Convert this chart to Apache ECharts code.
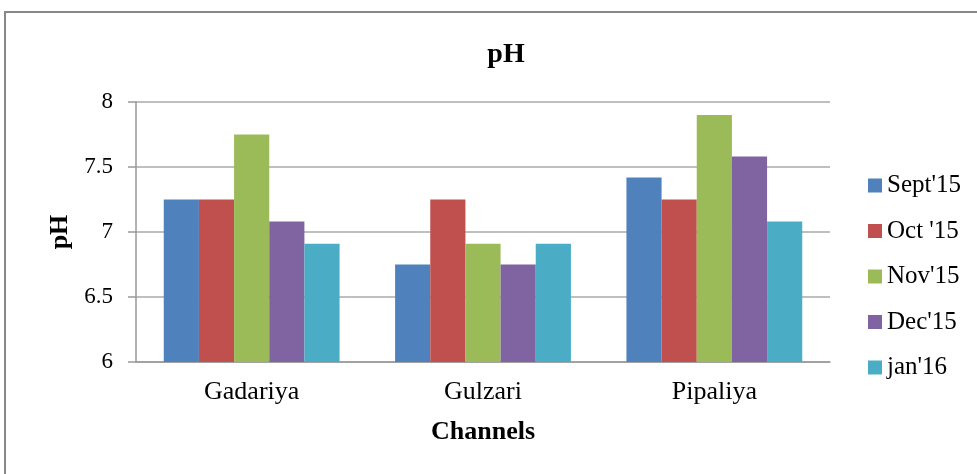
<!DOCTYPE html>
<html><head><meta charset="utf-8">
<script src="https://cdn.jsdelivr.net/npm/echarts@6/dist/echarts.min.js"></script>
<style>html,body{margin:0;padding:0;background:#fff}#c{width:977px;height:474px}</style>
</head><body><div id="c"></div>
<script>
const categories = ["Gadariya", "Gulzari", "Pipaliya"];
const seriesNames = ["Sept'15", "Oct '15", "Nov'15", "Dec'15", "jan'16"];
const sept15 = [7.25, 6.75, 7.42];
const oct15 = [7.25, 7.25, 7.25];
const nov15 = [7.75, 6.91, 7.90];
const dec15 = [7.08, 6.75, 7.58];
const jan16 = [6.91, 6.91, 7.08];
const colors = ["#4F81BD", "#C0504D", "#9BBB59", "#8064A2", "#4BACC6"];
const values = [sept15, oct15, nov15, dec15, jan16];

const font = "Liberation Serif";
const chart = echarts.init(document.getElementById('c'));
chart.setOption({
  animation: false,
  title: {text: "pH", left: 501, top: 36, textAlign: 'center',
    textStyle: {fontFamily: font, fontWeight: 'bold', fontSize: 28, color: '#000'}},
  graphic: [{type: 'rect', shape: {x: 5, y: 12, width: 980, height: 470},
    style: {fill: 'none', stroke: '#888', lineWidth: 2}, silent: true}],
  legend: {orient: 'vertical', left: 868, top: 173, padding: 0, itemGap: 20.5, itemWidth: 14, itemHeight: 14,
    icon: 'rect', data: seriesNames,
    textStyle: {fontFamily: font, fontSize: 25, color: '#000', padding: [0,0,0,0]}},
  grid: {left: 136, right: 147, top: 102, bottom: 112},
  xAxis: {type: 'category', data: categories,
    name: "Channels", nameLocation: 'middle', nameGap: 57,
    nameTextStyle: {fontFamily: font, fontWeight: 'bold', fontSize: 26, color: '#000'},
    axisLine: {lineStyle: {color: '#999', width: 1.5}}, axisTick: {show: false},
    axisLabel: {fontFamily: font, fontSize: 26, color: '#000', margin: 17}},
  yAxis: {type: 'value', min: 6, max: 8, interval: 0.5,
    name: "pH", nameLocation: 'middle', nameGap: 62, nameRotate: 90,
    nameTextStyle: {fontFamily: font, fontWeight: 'bold', fontSize: 26, color: '#000'},
    axisLine: {show: true, lineStyle: {color: '#999', width: 1.5}},
    axisTick: {show: true, length: 8, lineStyle: {color: '#999', width: 1.5}},
    splitLine: {lineStyle: {color: '#aaa', width: 1.5}},
    axisLabel: {fontFamily: font, fontSize: 23, color: '#000', margin: 23}},
  series: seriesNames.map((n, i) => ({
    name: n, type: 'bar', data: values[i], barGap: '0%', barCategoryGap: '24%',
    itemStyle: {color: colors[i]}
  }))
});
</script></body></html>
